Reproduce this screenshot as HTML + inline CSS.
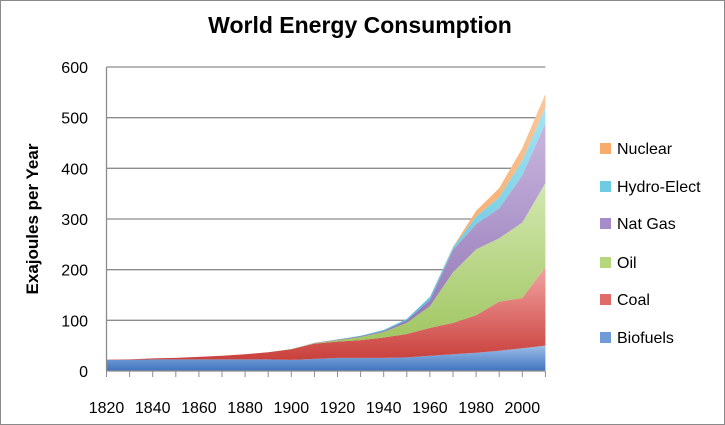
<!DOCTYPE html>
<html><head><meta charset="utf-8"><style>
html,body{margin:0;padding:0;background:#fff}
svg{display:block;font-family:"Liberation Sans",sans-serif}
</style></head><body>
<svg id="chart" width="725" height="425" viewBox="0 0 725 425">
<defs>
<linearGradient id="g0" x1="0" y1="0" x2="0" y2="1"><stop offset="0" stop-color="#9cbde6"/><stop offset="1" stop-color="#3f74bf"/></linearGradient>
<linearGradient id="g1" x1="0" y1="0" x2="0" y2="1"><stop offset="0" stop-color="#f2a3a1"/><stop offset="1" stop-color="#c9403c"/></linearGradient>
<linearGradient id="g2" x1="0" y1="0" x2="0" y2="1"><stop offset="0" stop-color="#d3e8b0"/><stop offset="1" stop-color="#9bc25a"/></linearGradient>
<linearGradient id="g3" x1="0" y1="0" x2="0" y2="1"><stop offset="0" stop-color="#c9b6de"/><stop offset="1" stop-color="#8a6db0"/></linearGradient>
<linearGradient id="g4" x1="0" y1="0" x2="0" y2="1"><stop offset="0" stop-color="#a6e3f2"/><stop offset="1" stop-color="#4bb8d6"/></linearGradient>
<linearGradient id="g5" x1="0" y1="0" x2="0" y2="1"><stop offset="0" stop-color="#fbc89a"/><stop offset="1" stop-color="#f3994f"/></linearGradient>
</defs>
<rect x="0.5" y="0.5" width="724" height="424" fill="#fff" stroke="#8a8a8a"/>
<text x="360" y="33" text-anchor="middle" font-size="23" font-weight="bold" fill="#000">World Energy Consumption</text>
<text transform="translate(38,219) rotate(-90)" text-anchor="middle" font-size="17" font-weight="bold">Exajoules per Year</text>
<g id="grid"></g><g id="areas"></g><g id="axes"></g><g id="legend"></g>
</svg>
<script>
const years = [1820,1830,1840,1850,1860,1870,1880,1890,1900,1910,1920,1930,1940,1950,1960,1970,1980,1990,2000,2010];
const seriesNames = ["Biofuels","Coal","Oil","Nat Gas","Hydro-Elect","Nuclear"];
const biofuels = [22,22,23,23,23,23,23,23,22,24,26,26,26,27,30,33,36,40,45,50];
const coal     = [0.5,1,2,3,5,7,10,14,21,30,32,35,40,46,55,62,74,97,99,155];
const oil      = [0,0,0,0,0,0,0,0,0.5,1,3,6,11,22,43,100,130,125,149,166];
const natGas   = [0,0,0,0,0,0,0,0,0,0.5,1,1.5,2,5,12,44,50,59,93,118];
const hydro    = [0,0,0,0,0,0,0,0,0,0,0.5,1,2,3,6,5,15,22,30,32];
const nuclear  = [0,0,0,0,0,0,0,0,0,0,0,0,0,0,0,1,11,18,24,26];
const yTicks = [0,100,200,300,400,500,600];
const xLabels = [1820,1840,1860,1880,1900,1920,1940,1960,1980,2000];

const NS="http://www.w3.org/2000/svg";
const x0=106.5, x1=545.4, yBase=371, yTop=67;
const xS=y=>x0+(y-1820)/(2010-1820)*(x1-x0);
const yS=v=>yBase-v/600*(yBase-yTop);
function mk(t,a,p){const e=document.createElementNS(NS,t);for(const k in a)e.setAttribute(k,a[k]);p.appendChild(e);return e;}
const grid=document.getElementById('grid'),areas=document.getElementById('areas'),axes=document.getElementById('axes'),legend=document.getElementById('legend');
yTicks.forEach(v=>{
  if(v>0){const l=mk('line',{x1:x0,x2:x1,y1:yS(v),y2:yS(v),stroke:'#8c8c8c','stroke-width':1.3},grid);
  
  }
  const t=mk('text',{x:88,y:yS(v)+6,'text-anchor':'end','font-size':16},axes);t.textContent=v;
  
  
});
const data=[biofuels,coal,oil,natGas,hydro,nuclear];
const fills=['url(#g0)','url(#g1)','url(#g2)','url(#g3)','url(#g4)','url(#g5)'];
const sw=['#6f9bd6','#e06b68','#b7d77f','#a68cc8','#6fcbe2','#f7ac6c'];
let base=years.map(()=>0);
data.forEach((s,i)=>{
  const top=base.map((b,j)=>b+s[j]);
  let d='M'+years.map((y,j)=>xS(y)+','+yS(top[j])).join('L');
  for(let j=years.length-1;j>=0;j--)d+='L'+xS(years[j])+','+yS(base[j]);
  const p=mk('path',{d:d+'Z',fill:fills[i]},areas);
  
  
  base=top;
});
mk('line',{x1:x0,x2:x0,y1:yTop,y2:yBase,stroke:'#8c8c8c','stroke-width':1.3},axes);
mk('line',{x1:x0,x2:x1,y1:yBase,y2:yBase,stroke:'#8c8c8c','stroke-width':1.3},axes);
years.forEach(y=>{mk('line',{x1:xS(y),x2:xS(y),y1:yBase,y2:yBase+6,stroke:'#8c8c8c'},axes);});
xLabels.forEach(y=>{const t=mk('text',{x:xS(y),y:413,'text-anchor':'middle','font-size':16},axes);t.textContent=y;
  
  });
const ly=[148,186,223,262,299,337];
for(let i=5;i>=0;i--){
  const g=mk('g',{},legend);
  
  
  const yy=ly[5-i];
  mk('rect',{x:600,y:yy-5,width:11,height:11,fill:sw[i]},g);
  const t=mk('text',{x:617,y:yy+6,'font-size':16},g);t.textContent=seriesNames[i];
}
</script>
</body></html>
